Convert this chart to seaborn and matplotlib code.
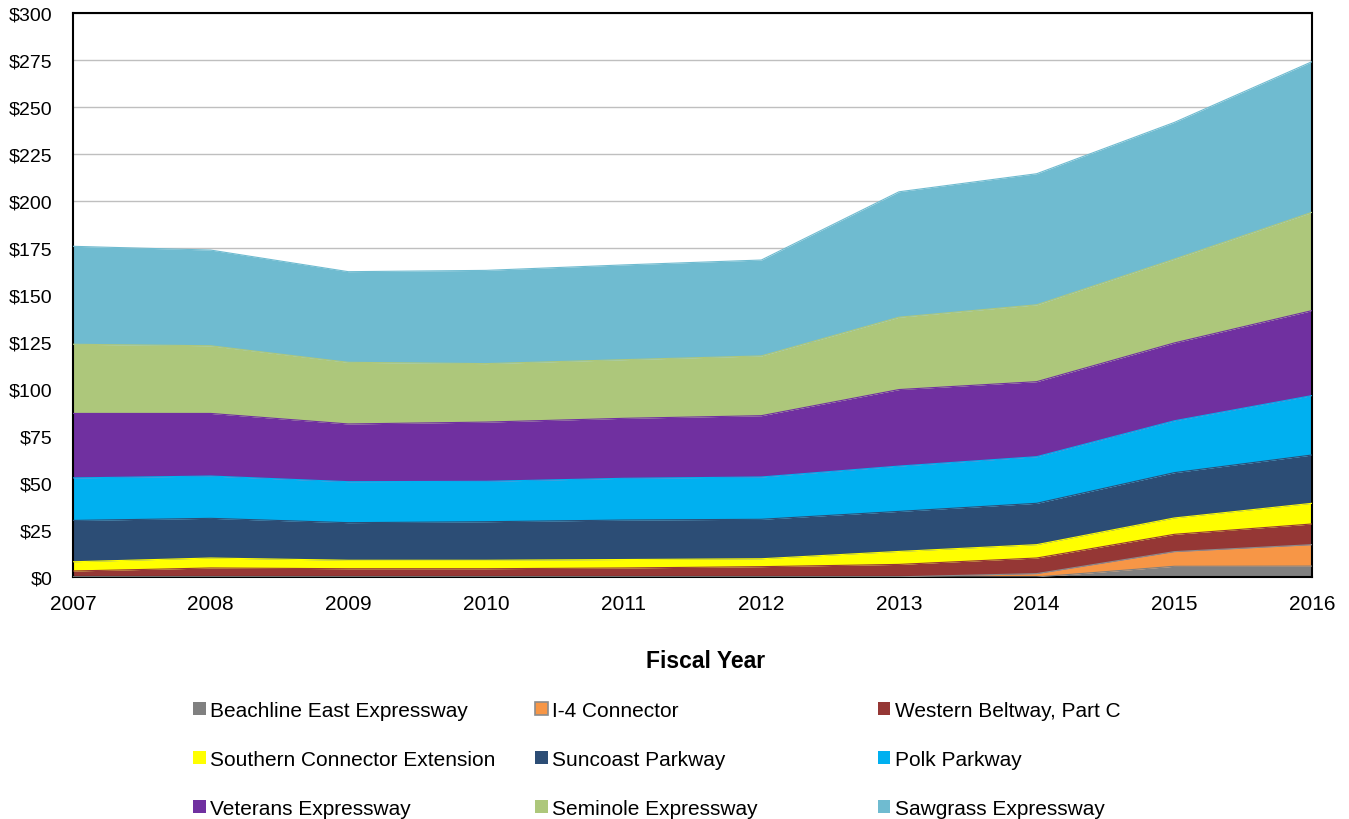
import matplotlib
matplotlib.use("Agg")
import matplotlib.pyplot as plt
from matplotlib.patches import Patch
from matplotlib.ticker import FuncFormatter, MultipleLocator
import seaborn as sns
import pandas as pd
import numpy as np

years = [2007, 2008, 2009, 2010, 2011, 2012, 2013, 2014, 2015, 2016]
series_names = ["Beachline East Expressway", "I-4 Connector", "Western Beltway, Part C",
                "Southern Connector Extension", "Suncoast Parkway", "Polk Parkway",
                "Veterans Expressway", "Seminole Expressway", "Sawgrass Expressway"]
beachline = [0, 0, 0, 0, 0, 0, 0, 0, 5.7, 5.8]
i4_connector = [0, 0, 0, 0, 0, 0, 0.1, 1.8, 7.8, 11.4]
western = [3.2, 4.8, 4.4, 4.4, 4.8, 5.5, 6.6, 8.3, 9.2, 11.0]
southern = [4.9, 5.3, 4.5, 4.5, 4.5, 4.2, 6.9, 7.1, 8.7, 11.0]
suncoast = [22.0, 21.1, 20.0, 20.5, 21.0, 21.0, 21.3, 22.0, 24.1, 25.7]
polk = [22.6, 22.5, 21.8, 21.5, 22.2, 22.5, 24.1, 24.8, 27.6, 31.6]
veterans = [34.3, 33.3, 30.7, 31.5, 31.9, 32.6, 40.7, 39.9, 41.4, 45.2]
seminole = [36.8, 36.0, 32.8, 31.1, 31.2, 31.8, 38.5, 40.9, 44.6, 52.3]
sawgrass = [52.1, 50.9, 48.2, 49.6, 50.4, 51.0, 66.7, 69.7, 72.7, 80.1]

colors = ["#808080", "#F79646", "#953735", "#FFFF00", "#2C4D75",
          "#00B0F0", "#7030A0", "#ADC77B", "#6FBBD0"]
edgecolors = ["#808080", "#8C8C8C", "#953735", "#FFFF00", "#2C4D75",
              "#00B0F0", "#7030A0", "#ADC77B", "#6FBBD0"]

df = pd.DataFrame(dict(zip(series_names, [beachline, i4_connector, western, southern,
                                           suncoast, polk, veterans, seminole, sawgrass])),
                  index=years)

sns.set_theme(style="white")
plt.rcParams["font.family"] = ["Liberation Sans", "DejaVu Sans"]
plt.rcParams["text.color"] = "black"
plt.rcParams["axes.labelcolor"] = "black"

fig = plt.figure(figsize=(13.49, 8.2), dpi=100)
ax = fig.add_axes([73/1349, 1 - 578/820, (1312 - 73)/1349, (578 - 14)/820])

ax.stackplot(df.index, [df[c].values for c in series_names], colors=colors,
             edgecolor=None, linewidth=0)
cum = np.cumsum(df.values, axis=1)
for i in range(len(series_names)):
    ax.plot(df.index, cum[:, i], color=edgecolors[i], lw=0.8, zorder=3)

ax.set_xlim(2007, 2016)
ax.set_ylim(0, 300)
ax.yaxis.set_major_locator(MultipleLocator(25))
ax.yaxis.set_major_formatter(FuncFormatter(lambda v, p: f"${int(v)}"))
ax.set_xticks(years)
ax.set_xticklabels([str(y) for y in years])
ax.grid(axis="y", color="#BFBFBF", lw=1.0)
ax.set_axisbelow(True)
for s in ax.spines.values():
    s.set_color("black")
    s.set_linewidth(1.5)
    s.set_visible(True)
ax.tick_params(axis="both", which="major", direction="out", length=5, width=1,
               color="#404040", colors="black")
ax.tick_params(axis="y", labelsize=14, pad=10, labelcolor="black")
ax.tick_params(axis="x", labelsize=15, pad=7, labelcolor="black")

fig.text(706/1349, 1 - 661/820, "Fiscal Year", ha="center", va="center",
         fontsize=16.5, fontweight="bold", color="black")

handles = [Patch(facecolor=colors[i], edgecolor=edgecolors[i] if i == 1 else colors[i],
                 linewidth=1.2 if i == 1 else 0) for i in range(9)]
col_x = [193, 535, 878]
for c in range(3):
    idx = [c, c + 3, c + 6]
    fig.legend([handles[i] for i in idx], [series_names[i] for i in idx],
               loc="upper left", bbox_to_anchor=(col_x[c]/1349, 1 - 702/820),
               frameon=False, fontsize=15, handlelength=0.6, handleheight=0.6,
               handletextpad=0.2, labelspacing=1.44, borderpad=0, borderaxespad=0,
               labelcolor="black")

fig.savefig("out.png", dpi=100)
